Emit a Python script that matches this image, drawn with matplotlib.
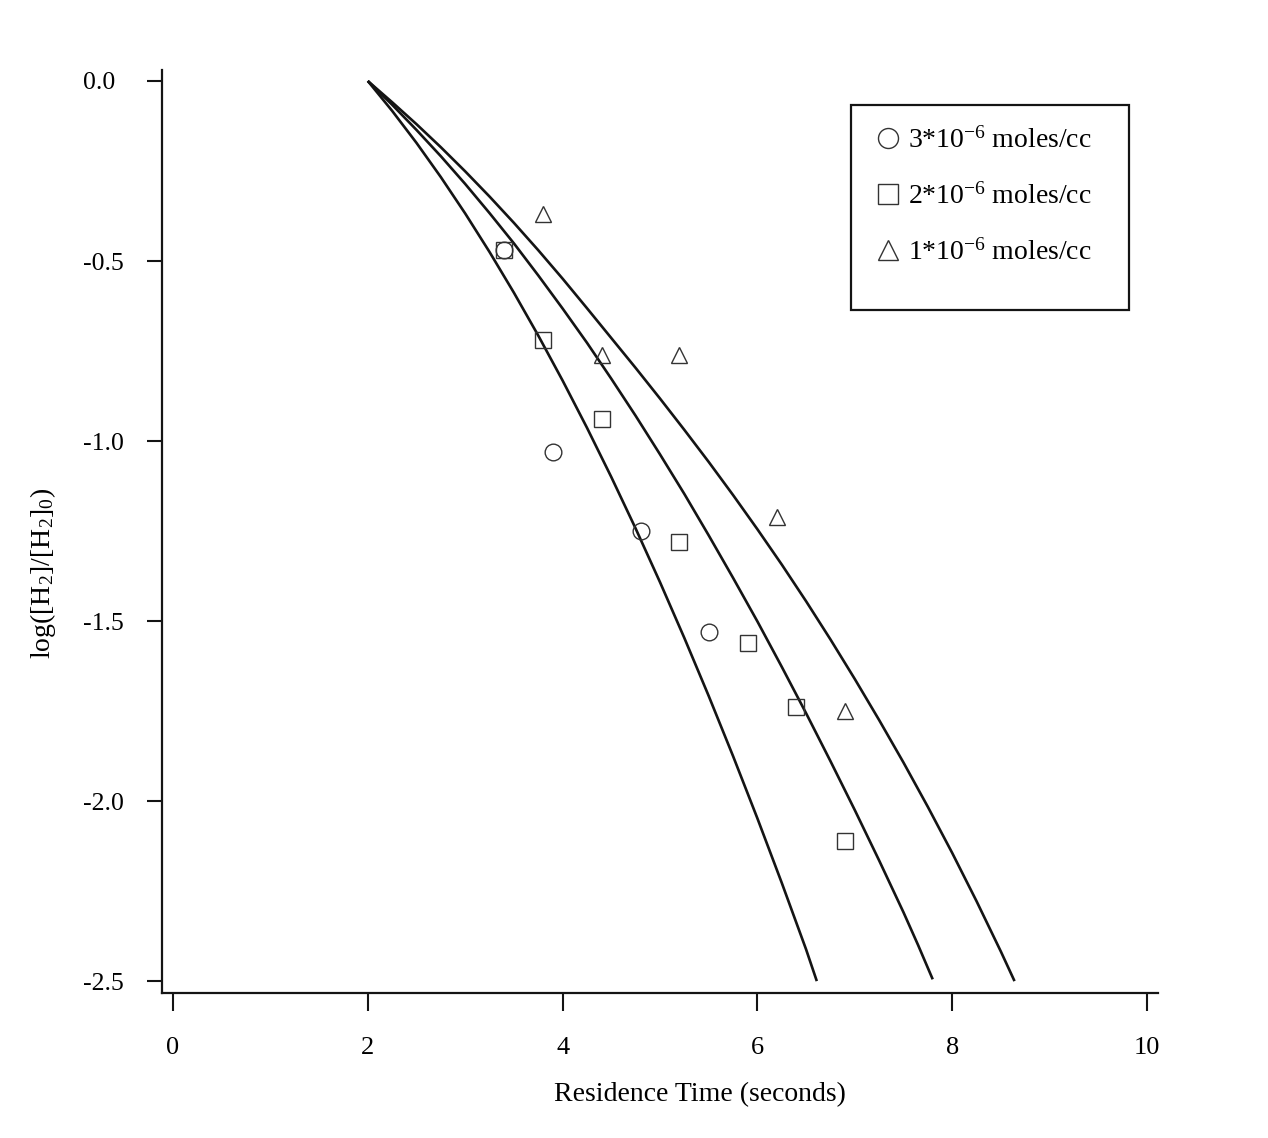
import matplotlib
matplotlib.use("Agg")
import matplotlib.pyplot as plt
from matplotlib.lines import Line2D
from matplotlib.patches import Rectangle

plt.rcParams["font.family"] = ["Liberation Serif", "DejaVu Serif"]
plt.rcParams["mathtext.fontset"] = "custom"
plt.rcParams["mathtext.rm"] = "Liberation Serif"
plt.rcParams["mathtext.it"] = "Liberation Serif:italic"
plt.rcParams["mathtext.bf"] = "Liberation Serif:bold"

# Measured H2 decay at three initial concentrations
t_3e6 = [3.4, 3.9, 4.8, 5.5]
y_3e6 = [-0.47, -1.03, -1.25, -1.53]
t_2e6 = [3.4, 3.8, 4.4, 5.2, 5.9, 6.4, 6.9]
y_2e6 = [-0.47, -0.72, -0.94, -1.28, -1.56, -1.74, -2.11]
t_1e6 = [3.8, 4.4, 5.2, 6.2, 6.9]
y_1e6 = [-0.37, -0.76, -0.76, -1.21, -1.75]

# Model curves
fit_t_3e6 = [2.0, 2.25, 2.5, 2.75, 3.0, 3.25, 3.5, 3.75, 4.0, 4.25, 4.5, 4.75,
             5.0, 5.25, 5.5, 5.75, 6.0, 6.25, 6.5, 6.61]
fit_y_3e6 = [0.0, -0.083, -0.172, -0.267, -0.368, -0.475, -0.588, -0.707, -0.832,
             -0.963, -1.100, -1.243, -1.392, -1.547, -1.708, -1.875, -2.048,
             -2.227, -2.412, -2.500]
fit_t_2e6 = [2.0, 2.25, 2.5, 2.75, 3.0, 3.25, 3.5, 3.75, 4.0, 4.25, 4.5, 4.75,
             5.0, 5.25, 5.5, 5.75, 6.0, 6.25, 6.5, 6.75, 7.0, 7.25, 7.5, 7.65, 7.8]
fit_y_2e6 = [0.0, -0.066, -0.136, -0.209, -0.286, -0.367, -0.451, -0.540, -0.632,
             -0.727, -0.827, -0.930, -1.037, -1.147, -1.262, -1.380, -1.501,
             -1.627, -1.756, -1.889, -2.025, -2.165, -2.309, -2.400, -2.495]
fit_t_1e6 = [2.0, 2.25, 2.5, 2.75, 3.0, 3.25, 3.5, 3.75, 4.0, 4.25, 4.5, 4.75,
             5.0, 5.25, 5.5, 5.75, 6.0, 6.25, 6.5, 6.75, 7.0, 7.25, 7.5, 7.75,
             8.0, 8.25, 8.5, 8.64]
fit_y_1e6 = [0.0, -0.059, -0.120, -0.184, -0.251, -0.321, -0.394, -0.470, -0.549,
             -0.631, -0.714, -0.797, -0.882, -0.969, -1.058, -1.150, -1.245,
             -1.343, -1.445, -1.551, -1.661, -1.775, -1.893, -2.016, -2.144,
             -2.278, -2.418, -2.500]

labels = [r"3*10$^{-6}$ moles/cc", r"2*10$^{-6}$ moles/cc", r"1*10$^{-6}$ moles/cc"]
x_ticks = [0, 2, 4, 6, 8, 10]
x_tick_labels = ["0", "2", "4", "6", "8", "10"]
y_ticks = [0.0, -0.5, -1.0, -1.5, -2.0, -2.5]
y_tick_labels = ["0.0", "-0.5", "-1.0", "-1.5", "-2.0", "-2.5"]

line_col = "#141414"
mark_col = "#333333"

fig = plt.figure(figsize=(12.68, 11.38), dpi=100)
ax = fig.add_axes([162 / 1268, 1 - 993 / 1138, 996 / 1268, 923 / 1138])

for ft, fy in [(fit_t_3e6, fit_y_3e6), (fit_t_2e6, fit_y_2e6), (fit_t_1e6, fit_y_1e6)]:
    ax.plot(ft, fy, color=line_col, lw=1.9, solid_capstyle="butt",
            solid_joinstyle="round")

mk = dict(ls="none", mfc="none", mec=mark_col, mew=1.0)
ax.plot(t_3e6, y_3e6, marker="o", ms=12, **mk)
ax.plot(t_2e6, y_2e6, marker="s", ms=11.5, **mk)
ax.plot(t_1e6, y_1e6, marker="^", ms=12, **mk)

ax.set_xlim(-0.113, 10.113)
ax.set_ylim(-2.533, 0.0305)
for s in ["top", "right"]:
    ax.spines[s].set_visible(False)
for s in ["left", "bottom"]:
    ax.spines[s].set_linewidth(1.6)
    ax.spines[s].set_color(line_col)

ax.set_xticks(x_ticks)
ax.set_xticklabels(x_tick_labels)
ax.set_yticks(y_ticks)
ax.set_yticklabels(y_tick_labels)
ax.tick_params(axis="y", length=11, width=1.5, pad=46, labelsize=18.5, color=line_col)
ax.tick_params(axis="x", length=13, width=1.5, pad=19, labelsize=19, color=line_col)
for lbl in ax.get_yticklabels():
    lbl.set_horizontalalignment("left")

ax.set_xlabel("Residence Time (seconds)", fontsize=20)
ax.xaxis.set_label_coords(0.540, -0.097)
ax.set_ylabel(r"log([H$_2$]/[H$_2$]$_0$)", fontsize=20)
ax.yaxis.set_label_coords(-0.104, 0.455)

handles = [
    Line2D([], [], marker="o", ms=12, **mk),
    Line2D([], [], marker="s", ms=11.5, **mk),
    Line2D([], [], marker="^", ms=12, **mk),
]
ax.legend(handles, labels, loc="upper left", bbox_to_anchor=(0.7149, 0.9383),
          frameon=False, borderpad=0, borderaxespad=0, handlelength=1.0,
          handletextpad=0.22, labelspacing=1.07, fontsize=20, markerscale=1.2)
ax.add_patch(Rectangle((0.692, 0.740), 0.279, 0.222, transform=ax.transAxes,
                       fill=False, lw=1.6, ec=line_col, clip_on=False))

fig.savefig("out.png", dpi=100)
